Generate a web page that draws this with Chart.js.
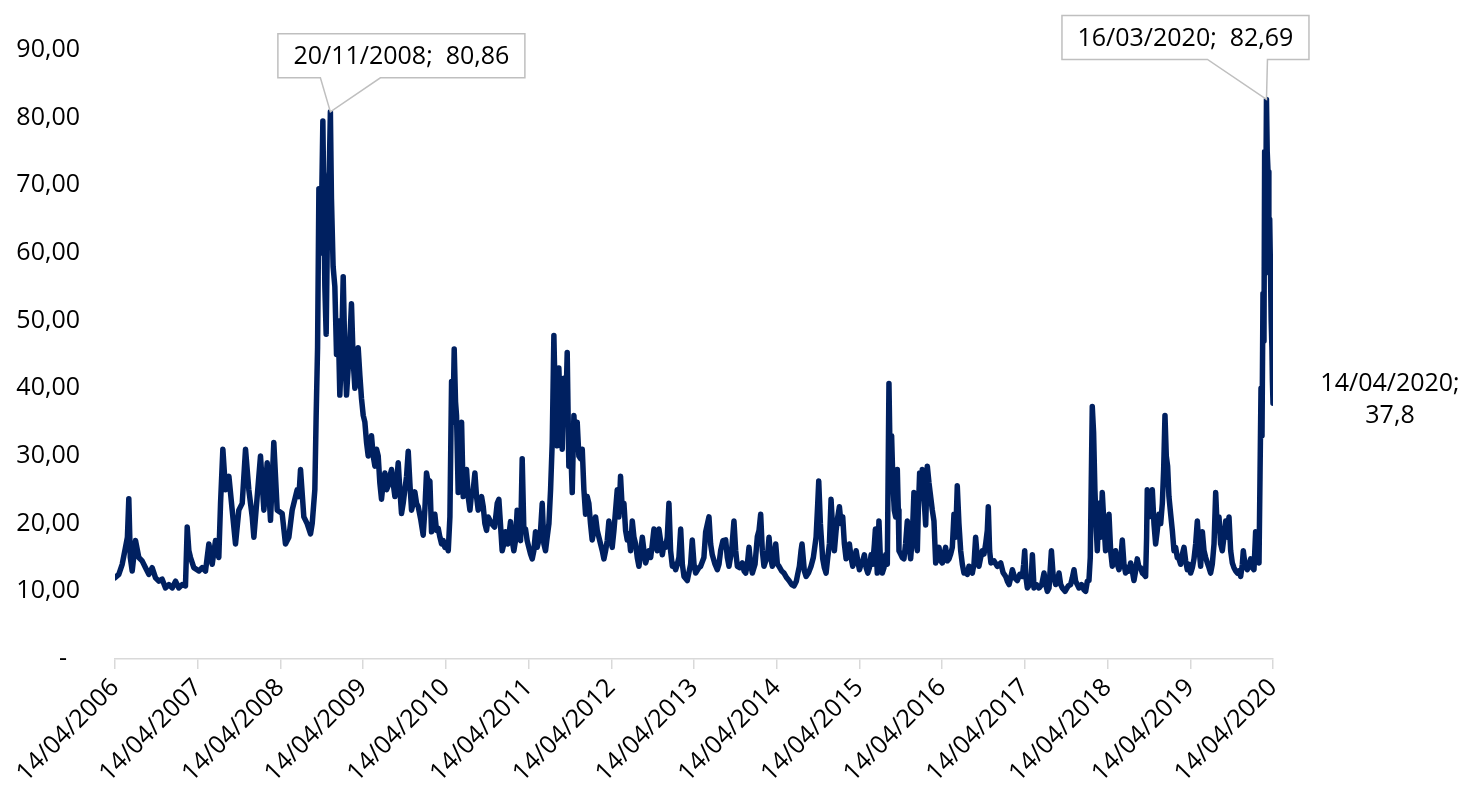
<!DOCTYPE html>
<html>
<head>
<meta charset="utf-8">
<title>VIX</title>
<script src="https://cdn.jsdelivr.net/npm/chart.js@4.4.1/dist/chart.umd.min.js"></script>
<style>
  html, body { margin: 0; padding: 0; background: #fff; }
  canvas { display: block; }
</style>
</head>
<body>
<canvas id="chart" width="1468" height="794"></canvas>
<script>
// time = years after 14/04/2006, vix = index value
const time = [
  0.000, 0.046, 0.087, 0.127, 0.150, 0.167, 0.185, 0.208, 0.248, 0.288,
  0.328, 0.369, 0.409, 0.449, 0.490, 0.530, 0.570, 0.611, 0.651, 0.691,
  0.732, 0.772, 0.812, 0.852, 0.873, 0.893, 0.913, 0.953, 1.014, 1.054,
  1.094, 1.135, 1.175, 1.215, 1.255, 1.276, 1.304, 1.336, 1.377, 1.417,
  1.457, 1.497, 1.538, 1.578, 1.618, 1.659, 1.679, 1.719, 1.759, 1.800,
  1.840, 1.880, 1.920, 1.961, 2.021, 2.061, 2.102, 2.142, 2.202, 2.223,
  2.243, 2.283, 2.323, 2.364, 2.384, 2.416, 2.432, 2.449, 2.465, 2.489,
  2.513, 2.537, 2.553, 2.575, 2.590, 2.604, 2.617, 2.637, 2.658, 2.678,
  2.698, 2.718, 2.738, 2.759, 2.779, 2.799, 2.819, 2.839, 2.859, 2.880,
  2.900, 2.920, 2.940, 2.960, 2.980, 3.001, 3.021, 3.041, 3.061, 3.081,
  3.101, 3.122, 3.142, 3.162, 3.182, 3.202, 3.222, 3.242, 3.263, 3.283,
  3.303, 3.323, 3.343, 3.363, 3.384, 3.404, 3.424, 3.444, 3.464, 3.484,
  3.504, 3.525, 3.545, 3.565, 3.585, 3.605, 3.625, 3.646, 3.666, 3.698,
  3.726, 3.746, 3.766, 3.787, 3.807, 3.827, 3.847, 3.867, 3.887, 3.908,
  3.928, 3.948, 3.968, 3.988, 4.008, 4.029, 4.049, 4.069, 4.085, 4.101,
  4.117, 4.129, 4.149, 4.169, 4.190, 4.210, 4.230, 4.250, 4.270, 4.291,
  4.311, 4.331, 4.351, 4.371, 4.391, 4.411, 4.432, 4.452, 4.472, 4.492,
  4.512, 4.553, 4.590, 4.621, 4.641, 4.681, 4.701, 4.722, 4.750, 4.782,
  4.802, 4.822, 4.842, 4.862, 4.883, 4.903, 4.923, 4.943, 4.963, 4.983,
  5.003, 5.024, 5.044, 5.064, 5.084, 5.104, 5.125, 5.145, 5.165, 5.185,
  5.205, 5.225, 5.246, 5.266, 5.286, 5.306, 5.326, 5.346, 5.366, 5.386,
  5.407, 5.427, 5.447, 5.467, 5.487, 5.507, 5.528, 5.548, 5.568, 5.588,
  5.608, 5.629, 5.649, 5.669, 5.689, 5.709, 5.729, 5.749, 5.769, 5.790,
  5.810, 5.830, 5.850, 5.870, 5.891, 5.911, 5.931, 5.951, 5.971, 5.991,
  6.011, 6.032, 6.052, 6.072, 6.092, 6.112, 6.133, 6.153, 6.173, 6.193,
  6.213, 6.233, 6.254, 6.274, 6.294, 6.314, 6.334, 6.354, 6.375, 6.395,
  6.415, 6.435, 6.455, 6.476, 6.496, 6.516, 6.536, 6.556, 6.576, 6.596,
  6.617, 6.637, 6.657, 6.677, 6.697, 6.717, 6.738, 6.758, 6.778, 6.798,
  6.818, 6.839, 6.859, 6.879, 6.919, 6.959, 6.979, 7.000, 7.020, 7.060,
  7.080, 7.120, 7.141, 7.181, 7.201, 7.221, 7.254, 7.282, 7.302, 7.322,
  7.350, 7.383, 7.403, 7.423, 7.455, 7.483, 7.504, 7.524, 7.552, 7.584,
  7.605, 7.625, 7.645, 7.665, 7.685, 7.705, 7.738, 7.766, 7.786, 7.806,
  7.826, 7.846, 7.867, 7.887, 7.907, 7.927, 7.947, 7.967, 7.988, 8.008,
  8.028, 8.060, 8.088, 8.121, 8.148, 8.181, 8.209, 8.237, 8.253, 8.274,
  8.294, 8.306, 8.334, 8.355, 8.387, 8.415, 8.443, 8.476, 8.496, 8.508,
  8.528, 8.556, 8.576, 8.597, 8.617, 8.637, 8.657, 8.677, 8.697, 8.718,
  8.738, 8.758, 8.778, 8.798, 8.818, 8.839, 8.859, 8.879, 8.899, 8.919,
  8.939, 8.960, 8.980, 9.000, 9.020, 9.040, 9.060, 9.081, 9.101, 9.121,
  9.141, 9.161, 9.181, 9.193, 9.216, 9.236, 9.256, 9.276, 9.297, 9.317,
  9.337, 9.357, 9.373, 9.389, 9.405, 9.421, 9.438, 9.458, 9.470, 9.478,
  9.498, 9.518, 9.538, 9.558, 9.579, 9.599, 9.619, 9.639, 9.659, 9.679,
  9.700, 9.712, 9.728, 9.744, 9.760, 9.780, 9.801, 9.821, 9.841, 9.861,
  9.881, 9.901, 9.922, 9.942, 9.962, 9.982, 10.002, 10.022, 10.042, 10.062,
  10.083, 10.103, 10.123, 10.143, 10.163, 10.183, 10.203, 10.224, 10.244, 10.264,
  10.284, 10.304, 10.324, 10.345, 10.365, 10.385, 10.405, 10.425, 10.445, 10.466,
  10.486, 10.506, 10.526, 10.546, 10.558, 10.574, 10.590, 10.627, 10.667, 10.708,
  10.736, 10.768, 10.788, 10.809, 10.829, 10.849, 10.877, 10.909, 10.938, 10.970,
  10.986, 10.998, 11.014, 11.030, 11.059, 11.079, 11.091, 11.111, 11.139, 11.171,
  11.204, 11.232, 11.252, 11.272, 11.292, 11.321, 11.341, 11.373, 11.393, 11.413,
  11.433, 11.453, 11.486, 11.525, 11.553, 11.574, 11.594, 11.614, 11.634, 11.654,
  11.686, 11.715, 11.735, 11.755, 11.775, 11.791, 11.807, 11.815, 11.831, 11.847,
  11.864, 11.876, 11.896, 11.916, 11.936, 11.956, 11.976, 11.997, 12.017, 12.037,
  12.057, 12.077, 12.097, 12.118, 12.138, 12.158, 12.178, 12.198, 12.218, 12.238,
  12.259, 12.279, 12.299, 12.319, 12.339, 12.359, 12.380, 12.400, 12.420, 12.440,
  12.460, 12.472, 12.480, 12.501, 12.521, 12.541, 12.561, 12.581, 12.601, 12.621,
  12.642, 12.662, 12.678, 12.694, 12.710, 12.726, 12.742, 12.763, 12.783, 12.803,
  12.823, 12.843, 12.863, 12.883, 12.904, 12.924, 12.944, 12.964, 12.984, 13.004,
  13.025, 13.045, 13.065, 13.085, 13.105, 13.125, 13.146, 13.166, 13.186, 13.206,
  13.226, 13.246, 13.266, 13.287, 13.307, 13.327, 13.347, 13.367, 13.387, 13.407,
  13.428, 13.448, 13.468, 13.488, 13.508, 13.528, 13.549, 13.569, 13.589, 13.609,
  13.629, 13.641, 13.661, 13.689, 13.710, 13.730, 13.750, 13.770, 13.790, 13.810,
  13.831, 13.843, 13.855, 13.867, 13.879, 13.891, 13.899, 13.907, 13.921, 13.930,
  13.940, 13.950, 13.960, 13.970, 13.978, 13.987, 13.993, 14.000
];

const vix = [
  12, 12.5, 14, 16.5, 18, 23.7, 15, 13, 17.5, 15,
  14.5, 13.5, 12.5, 13.5, 12, 11.5, 11.8, 10.5, 11, 10.5,
  11.5, 10.5, 11, 10.8, 19.5, 16, 15, 13.5, 13, 13.5,
  13, 17, 14, 17.5, 15, 23, 31, 25, 27, 22,
  17, 22, 23, 31, 25, 21, 18, 24, 30, 22,
  29, 20.5, 32, 22, 21.5, 17, 18, 22, 25, 24,
  28, 21, 20, 18.5, 20, 25, 36, 46, 69.5, 60,
  79.5, 55, 48, 70, 72, 80.86, 68, 58, 55, 45,
  50, 39, 45, 56.5, 45, 39, 43, 47, 52.5, 44,
  40, 41, 46, 42, 38.5, 36, 35, 32, 30, 31,
  33, 30, 28.5, 31, 30, 26, 23.6, 26, 27.5, 25,
  25.6, 27, 28, 26, 24, 26, 29, 25, 21.5, 23,
  25, 27, 30.7, 26, 22, 23, 24.7, 23, 22.5, 20.5,
  18.3, 22, 27.5, 26, 26.3, 18.8, 20.5, 21.4, 19, 19.3,
  18, 17, 17.5, 16.5, 17, 16, 21, 41, 35, 45.8,
  38, 36, 24.6, 30, 35, 24, 26, 28, 24, 22,
  24.5, 25, 27.5, 24, 22, 23, 24, 22.5, 20, 19,
  21, 20, 19.5, 23, 23.6, 16, 17, 18.8, 17, 20.3,
  17.5, 16, 17.5, 22, 18, 17.5, 29.6, 19, 19.2, 17.5,
  16.5, 15.5, 14.8, 16, 18.8, 16.5, 17.6, 19, 23, 17,
  16, 18, 20, 25, 32, 47.8, 36, 31.5, 43, 36,
  31, 41.5, 35, 45.3, 28.5, 32, 24.6, 36, 31, 35,
  30, 29.6, 31, 25, 21.4, 24, 23, 20, 17.6, 19,
  21, 19, 18, 17, 16, 14.8, 16, 17.5, 20.4, 18,
  16.5, 19, 22, 25, 21, 27, 22, 23, 19, 17.6,
  18.5, 16, 20.4, 18, 17, 15, 13.7, 15.5, 18, 16,
  14.2, 15, 16, 15, 17, 19.2, 17, 16, 19.2, 17.5,
  15.4, 17, 16.5, 18, 23, 16, 13.7, 14, 13.2, 14,
  15, 19.2, 14, 12.2, 11.6, 14, 17.6, 14, 12.7, 13.5,
  13.7, 15, 18.8, 21, 17, 15.4, 14, 13.2, 14, 16,
  17.5, 17.6, 15, 13.7, 16, 20.4, 16, 13.7, 13.5, 14.2,
  13, 12.7, 14, 16.5, 14, 12.7, 14, 18.1, 19, 21.4,
  16, 13.7, 14.5, 15, 18, 15, 13.7, 15, 17, 14,
  13.7, 13, 12.7, 12, 11.6, 11, 10.8, 11.5, 12.5, 13.7,
  16, 17, 13, 12.2, 12.8, 13.7, 15, 18, 23, 26.3,
  20, 14.8, 13.5, 12.7, 15, 17, 23.6, 19, 16, 19,
  21, 22.5, 20, 21, 17, 14.8, 15.5, 17, 15, 13.7,
  14.5, 16, 14.5, 13.2, 14, 14.5, 15.4, 13.5, 12.7, 13.5,
  15.4, 14, 17, 19.2, 12.7, 20.4, 14, 12.7, 13.5, 15.4,
  14, 40.7, 28, 33, 26, 22, 21, 28, 22, 16,
  15.5, 15, 14.8, 17, 20.4, 17, 14.8, 18, 24.6, 18,
  16, 22, 27.5, 24, 28, 24, 19.8, 28.5, 26, 24,
  22, 20.4, 14.2, 15.5, 16.5, 14.5, 14.2, 15.5, 16.5, 14.5,
  14.8, 15.5, 16.5, 21.4, 18, 25.6, 20, 16, 14, 12.7,
  13, 12.5, 13.7, 13, 12.7, 14, 18, 15, 13.7, 15,
  16, 15.5, 17, 19, 22.5, 16, 14.2, 14.5, 13.7, 14.2,
  12.8, 12.2, 11.5, 11, 12, 13.2, 12, 11.6, 12.5, 12.2,
  14, 16, 12, 10.5, 11, 12.5, 15.4, 10.5, 11, 10.5,
  11, 12.7, 11, 10, 10.5, 16, 12.5, 11, 11.5, 12.7,
  11, 10.5, 10, 10.8, 11, 12, 13.2, 11.5, 11, 10.5,
  11, 10.2, 10, 11.5, 11.6, 15, 30, 37.3, 33.5, 25,
  19, 16, 23, 18, 24.6, 20, 16, 18, 21.4, 16,
  13.7, 15, 16, 14, 13.2, 14.5, 17.6, 14, 12.7, 13.5,
  13, 14.2, 13, 11.6, 13, 14.8, 13.5, 13.5, 12.7, 12.5,
  12.2, 18, 25, 21, 23, 25, 20, 17, 19, 21.4,
  20, 23, 28, 36, 30, 28.5, 24, 21.4, 19, 16,
  16.5, 15, 14.8, 14, 15.5, 16.5, 14.5, 13.2, 14, 12.7,
  13.5, 14.8, 17, 20.4, 16.5, 13.7, 18.8, 16, 15, 14.2,
  13.5, 12.7, 14, 17, 24.6, 19, 21, 17, 16, 18,
  20.4, 18, 21, 16, 14.2, 13.5, 13, 12.7, 13, 12.2,
  14, 16, 14, 13.2, 14, 14.8, 13.5, 13.2, 18.8, 15,
  14.2, 27, 40, 33, 54, 47, 75, 57, 82.69, 75,
  72, 61, 65, 57, 50, 46, 41, 37.8
];

// x axis: one tick per year, on 14 April
const tickYears = [2006, 2007, 2008, 2009, 2010, 2011, 2012, 2013, 2014, 2015, 2016, 2017, 2018, 2019, 2020];

// labelled points
const calloutTimes = [2.604, 13.921];
const calloutDates = ['20/11/2008', '16/03/2020'];
const lastDate = '14/04/2020';

const FONT = '"Open Sans", "DejaVu Sans", sans-serif';

function fmt2(v) {
    return v.toFixed(2).replace('.', ',');
}

// callout boxes and the last-value label
const labelPlugin = {
    id: 'labels',
    afterDatasetsDraw(chart) {
        const ctx = chart.ctx;
        const xs = chart.scales.x;
        const ys = chart.scales.y;
        const boxes = [
            { dx: 71, dy: -78, gapL: -10, gapR: 50 },
            { dx: -81, dy: -84, gapL: -59, gapR: 1 }
        ];
        const w = 247, h = 44;

        ctx.save();
        ctx.font = '25px ' + FONT;
        ctx.textAlign = 'center';
        ctx.textBaseline = 'middle';

        calloutTimes.forEach((t, k) => {
            const i = time.indexOf(t);
            const px = xs.getPixelForValue(time[i]);
            const py = ys.getPixelForValue(vix[i]);
            const b = boxes[k];
            const left = px + b.dx - w / 2;
            const top = py + b.dy;
            const right = left + w;
            const bottom = top + h;

            ctx.beginPath();
            ctx.moveTo(px + b.gapL, bottom);
            ctx.lineTo(left, bottom);
            ctx.lineTo(left, top);
            ctx.lineTo(right, top);
            ctx.lineTo(right, bottom);
            ctx.lineTo(px + b.gapR, bottom);
            ctx.lineTo(px, py);
            ctx.closePath();
            ctx.fillStyle = '#ffffff';
            ctx.fill();
            ctx.strokeStyle = '#bfbfbf';
            ctx.lineWidth = 1.5;
            ctx.stroke();

            ctx.fillStyle = '#000000';
            ctx.fillText(calloutDates[k] + ';  ' + fmt2(vix[i]), left + w / 2, top + h / 2 + 1);
        });

        // last value, no box
        const n = vix.length - 1;
        const lx = xs.getPixelForValue(time[n]) + 117;
        const ly = ys.getPixelForValue(vix[n]);
        ctx.fillStyle = '#000000';
        ctx.fillText(lastDate + ';', lx, ly - 19);
        ctx.fillText(String(vix[n]).replace('.', ','), lx, ly + 13);
        ctx.restore();
    }
};

document.addEventListener('DOMContentLoaded', function() {
    const points = time.map((t, i) => ({ x: t, y: vix[i] }));

    new Chart(document.getElementById('chart'), {
        type: 'line',
        data: {
            datasets: [{
                data: points,
                borderColor: '#002060',
                borderWidth: 5.5,
                borderJoinStyle: 'round',
                borderCapStyle: 'round',
                pointRadius: 0,
                tension: 0,
                fill: false
            }]
        },
        options: {
            responsive: false,
            animation: false,
            layout: {
                padding: { left: 0, right: 195, top: 47, bottom: 0 }
            },
            plugins: {
                legend: { display: false },
                tooltip: { enabled: false }
            },
            scales: {
                x: {
                    type: 'linear',
                    min: 0,
                    max: 14,
                    afterFit: function(scale) { scale.height = 135; },
                    grid: {
                        display: true,
                        drawOnChartArea: false,
                        drawTicks: true,
                        tickLength: 10,
                        color: '#d9d9d9',
                        lineWidth: 1.5
                    },
                    border: { display: true, color: '#d9d9d9', width: 1.5 },
                    ticks: {
                        stepSize: 1,
                        autoSkip: false,
                        minRotation: 45,
                        maxRotation: 45,
                        padding: 4,
                        color: '#000000',
                        font: { family: FONT, size: 25 },
                        callback: function(v) { return '14/04/' + tickYears[v]; }
                    }
                },
                y: {
                    min: 0,
                    max: 90,
                    afterFit: function(scale) { scale.width = 115; },
                    grid: { display: false, drawTicks: false },
                    border: { display: false },
                    ticks: {
                        stepSize: 10,
                        padding: 35,
                        color: '#000000',
                        font: { family: FONT, size: 25 },
                        callback: function(v) { return v === 0 ? '-  ' : fmt2(v); }
                    }
                }
            }
        },
        plugins: [labelPlugin]
    });
});
</script>
</body>
</html>
